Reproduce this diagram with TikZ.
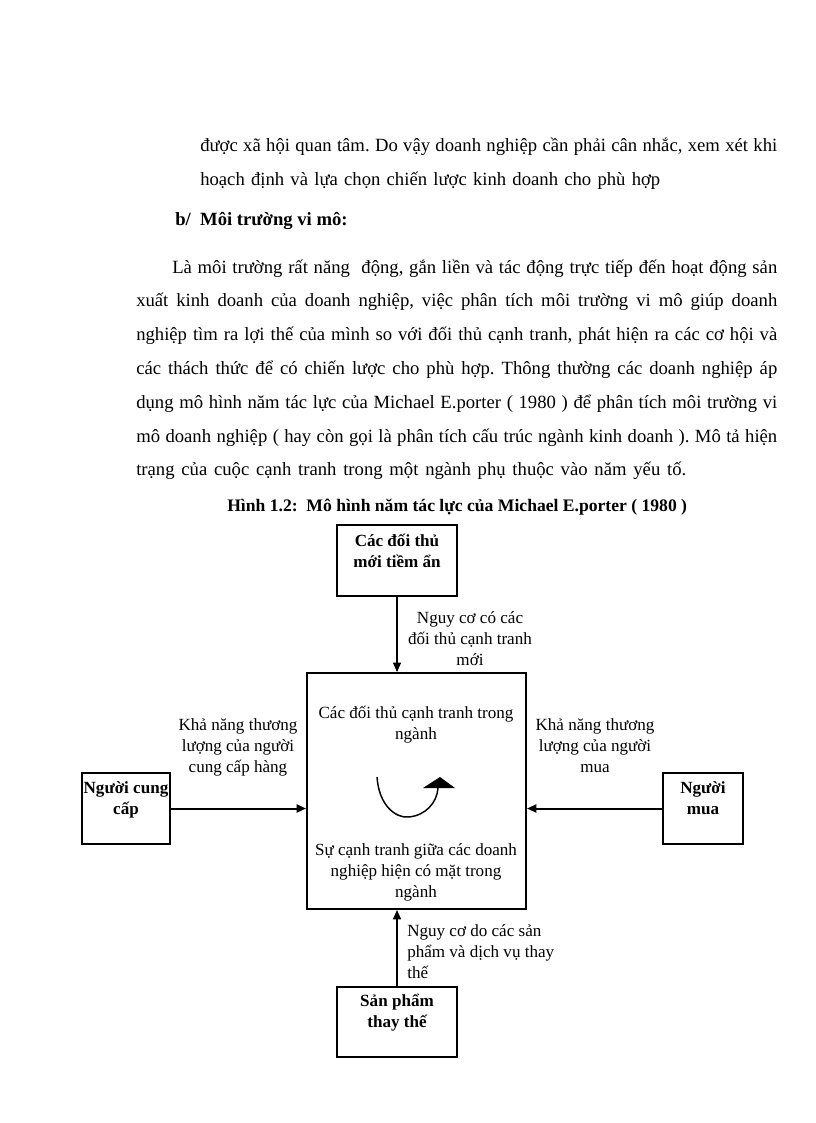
\documentclass[tikz,border=0pt]{standalone}
\usepackage{fontspec}
\setmainfont{Liberation Serif}
\usetikzlibrary{arrows.meta}
\newcommand{\mytstrut}{\rule{0pt}{12pt}}
\frenchspacing
\begin{document}
\begin{tikzpicture}[x=0.75pt,y=-0.75pt,
  bodyline/.style={inner sep=0pt, anchor=base west, font=\fontsize{14}{16}\selectfont},
  boxst/.style={draw, line width=1.5pt, inner sep=0pt},
  lbl/.style={inner sep=0pt, align=center, anchor=north, font=\fontsize{12.8}{15.75}\selectfont},
  boxtxt/.style={lbl, font=\fontsize{12.8}{15.75}\selectfont\bfseries},
  arr/.style={-{Triangle[length=7pt,width=6pt]}},
]
\useasboundingbox (0,0) rectangle (816,1123);
\fill[white] (0,0) rectangle (816,1123);

% body text
\node[bodyline] (p1a) at (200,152) {\makebox[432.75pt][s]{được xã hội quan tâm. Do vậy doanh nghiệp cần phải cân nhắc, xem xét khi}};
\node[bodyline] (p1b) at (200,186) {\makebox[345pt][s]{hoạch định và lựa chọn chiến lược kinh doanh cho phù hợp}};
\node[bodyline, font=\fontsize{14}{16}\selectfont\bfseries] (hd) at (175,226) {b/\ \ Môi trường vi mô:};
\node[bodyline] (q1) at (172,273) {\makebox[453.75pt][s]{Là môi trường rất năng\ \ động, gắn liền và tác động trực tiếp đến hoạt động sản}};
\node[bodyline] (q2) at (136,306.8) {\makebox[480.75pt][s]{xuất kinh doanh của doanh nghiệp, việc phân tích môi trường vi mô giúp doanh}};
\node[bodyline] (q3) at (136,340.6) {\makebox[480.75pt][s]{nghiệp tìm ra lợi thế của mình so với đối thủ cạnh tranh, phát hiện ra các cơ hội và}};
\node[bodyline] (q4) at (136,374.4) {\makebox[480.75pt][s]{các thách thức để có chiến lược cho phù hợp. Thông thường các doanh nghiệp áp}};
\node[bodyline] (q5) at (136,408.2) {\makebox[480.75pt][s]{dụng mô hình năm tác lực của Michael E.porter ( 1980 ) để phân tích môi trường vi}};
\node[bodyline] (q6) at (136,442) {\makebox[480.75pt][s]{mô doanh nghiệp ( hay còn gọi là phân tích cấu trúc ngành kinh doanh ). Mô tả hiện}};
\node[bodyline] (q7) at (136,475.8) {\makebox[412.5pt][s]{trạng của cuộc cạnh tranh trong một ngành phụ thuộc vào năm yếu tố.}};
\node[bodyline, font=\fontsize{13.2}{16}\selectfont\bfseries] (cap) at (227,511) {Hình 1.2:\ \ Mô hình năm tác lực của Michael E.porter ( 1980 )};

% boxes
\node[boxst, minimum width=90pt, minimum height=53.25pt] (tb) at (397,560.5) {};
\node[boxst, minimum width=164.25pt, minimum height=177pt] (cb) at (416.5,791) {};
\node[boxst, minimum width=66pt, minimum height=53.25pt] (lb) at (126,808.5) {};
\node[boxst, minimum width=60pt, minimum height=53.25pt] (rb) at (703,808.5) {};
\node[boxst, minimum width=90pt, minimum height=52.5pt] (bb) at (397,1022) {};

% box texts
\node[boxtxt] (tbt) at (397,530) {\mytstrut Các đối thủ\\mới tiềm ẩn};
\node[boxtxt] (lbt) at (126,777) {\mytstrut Người cung\\cấp};
\node[boxtxt] (rbt) at (703,777) {\mytstrut Người\\mua};
\node[boxtxt] (bbt) at (397,990) {\mytstrut Sản phẩm\\thay thế};

% central texts
\node[lbl] (cbt1) at (416,702) {\mytstrut Các đối thủ cạnh tranh trong\\ngành};
\node[lbl] (cbt2) at (416,839) {\mytstrut Sự cạnh tranh giữa các doanh\\nghiệp hiện có mặt trong\\ngành};

% arrows
\draw[arr, line width=0.8pt] (tb.south) -- (tb.south |- cb.north);
\draw[arr, line width=1.5pt] (lb.east) -- (cb.west |- lb.east);
\draw[arr, line width=1.5pt] (rb.west) -- (cb.east |- rb.west);
\draw[arr, line width=1.1pt] (bb.north) -- (bb.north |- cb.south);

% arrow labels
\node[lbl] (tl) at (470,607) {\mytstrut Nguy cơ có các\\đối thủ cạnh tranh\\mới};
\node[lbl] (ll) at (238,714) {\mytstrut Khả năng thương\\lượng của người\\cung cấp hàng};
\node[lbl] (rl) at (595,714) {\mytstrut Khả năng thương\\lượng của người\\mua};
\node[lbl, anchor=north west, align=left] (bl) at (407,920) {\mytstrut Nguy cơ do các sản\\phẩm và dịch vụ thay\\thế};

% rivalry symbol
\draw[line width=1.1pt] (377,777) .. controls (379,806) and (396,818) .. (408,817) .. controls (425,816) and (437,803) .. (438,788);
\fill (423,788) -- (440,777) -- (455,788) -- cycle;
\end{tikzpicture}
\end{document}
